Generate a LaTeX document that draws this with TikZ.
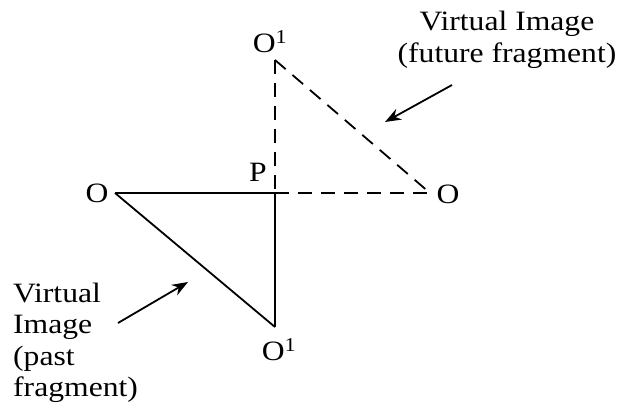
\documentclass[tikz,border=0pt]{standalone}
\usepackage{fontspec}
\setmainfont{Liberation Serif}[FakeStretch=1.13]
\usetikzlibrary{arrows.meta}

\begin{document}
\begin{tikzpicture}[x=1pt,y=-1pt]

\tikzset{
  point label/.style={
    inner sep=0pt,
    font=\fontsize{28}{30}\selectfont,
  },
  note text/.style={
    inner sep=0pt,
    font=\fontsize{28}{31.5}\selectfont,
  },
  real edge/.style={line width=1.8pt},
  virtual edge/.style={line width=1.8pt, dash pattern=on 14pt off 9pt},
  pointer/.style={line width=1.8pt, -{Stealth[length=16pt,width=12pt]}},
}

\useasboundingbox (0,0) rectangle (620,415);

% Corners
\coordinate (objL) at (115,193);
\coordinate (p) at (275,193);
\coordinate (imgB) at (275,327);
\coordinate (imgT) at (275,60);
\coordinate (objR) at (430,193);

% Point labels
\node[point label] (objL label) at (97,193) {O};
\node[point label] (p label) at (258,172) {P};
\node[point label] (imgB label) at (279,350) {O\textsuperscript{1}};
\node[point label] (imgT label) at (270,42) {O\textsuperscript{1}};
\node[point label] (objR label) at (448,194) {O};

% Notes
\node[note text, align=center] (future note) at (507,40) {Virtual Image\\(future fragment)};
\node[note text, align=left, anchor=west] (past note) at (13,343) {Virtual\\Image\\(past\\fragment)};

% Past fragment (solid)
\draw[real edge] (objL) -- (p);
\draw[real edge] (p) -- (imgB);
\draw[real edge] (objL) -- (imgB);

% Future fragment (dashed)
\draw[virtual edge] (imgT) -- (p);
\draw[virtual edge] (p) -- (objR);
\draw[virtual edge] (imgT) -- (objR);

% Pointers
\coordinate (future tail) at (452,85);
\coordinate (future head) at (385,122);
\coordinate (past tail) at (118,323);
\coordinate (past head) at (188,282);
\draw[pointer] (future tail) -- (future head);
\draw[pointer] (past tail) -- (past head);

\end{tikzpicture}
\end{document}
